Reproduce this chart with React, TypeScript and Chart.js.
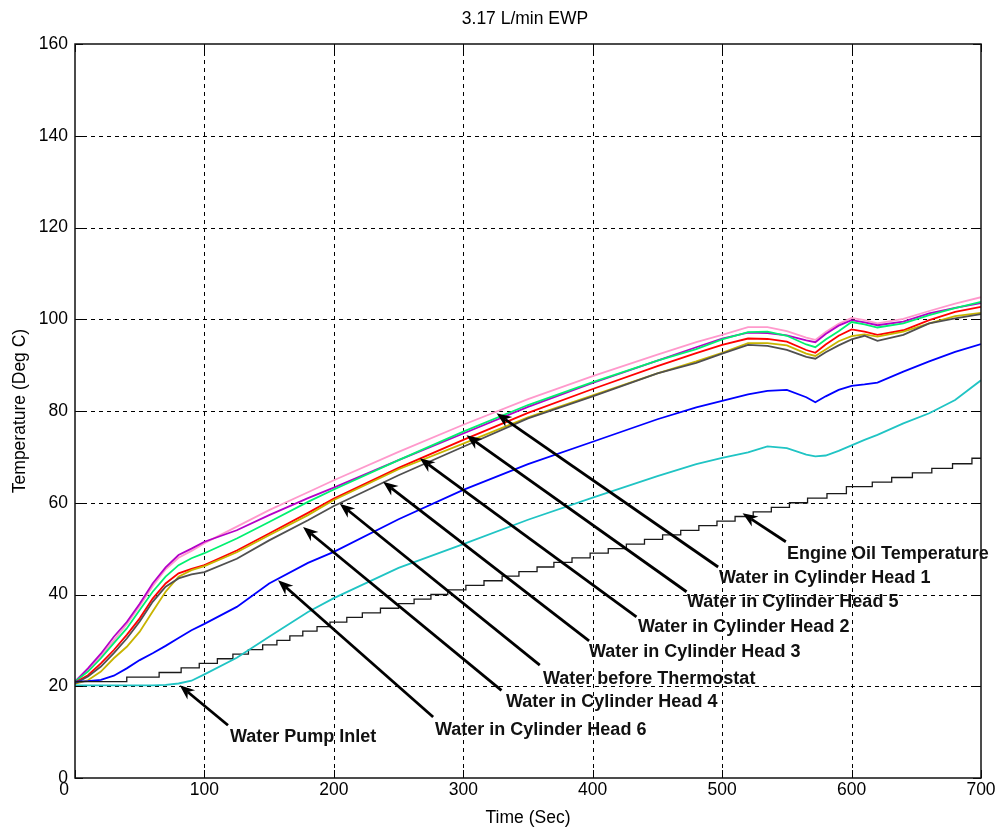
import React, { useEffect, useRef } from "react";
import { Chart, registerables } from "chart.js";
Chart.register(...registerables);

// ---------- data ----------
const TIME = [0, 10, 20, 30, 40, 50, 60, 70, 80, 90, 100, 125, 150, 180, 200, 250, 300, 350, 400, 450, 480, 500, 520, 535, 550, 565, 572, 580, 590, 600, 610, 620, 640, 660, 680, 700];

const HEAD1 = [21, 23.5, 26.5, 30, 33.5, 37.5, 41.8, 45.5, 48, 49.5, 51.2, 54.8, 58.4, 62.3, 64.9, 71.1, 77, 82.6, 87.6, 92.3, 95, 96.6, 98.3, 98.3, 97.4, 96, 95.5, 97.2, 99, 100.3, 99.8, 99.1, 100.1, 101.8, 103.4, 104.8];
const HEAD5 = [21, 23.2, 26.1, 29.4, 32.6, 36.6, 40.6, 43.9, 46.4, 47.9, 49, 52.2, 55.8, 60.2, 62.9, 69.3, 75.5, 81.3, 86.3, 91, 93.5, 95.6, 97.2, 97.3, 96.4, 94.5, 93.9, 95.6, 97.4, 99.4, 98.9, 98.2, 99.1, 100.9, 102.4, 103.8];
const HEAD2 = [21, 23.9, 27.1, 30.8, 34, 38, 42.4, 45.9, 48.6, 50, 51.5, 54, 57.3, 61, 63.3, 69.3, 75.1, 80.9, 86.1, 91, 93.9, 95.8, 97.1, 97, 96.5, 95.4, 95, 96.8, 98.6, 99.8, 99.3, 98.7, 99.5, 101.3, 102.5, 103.5];
const HEAD3 = [20.8, 22.4, 25, 27.9, 31.2, 34.8, 39.1, 42.4, 44.6, 45.6, 46.4, 49.6, 53.3, 57.8, 60.9, 67.6, 73.7, 79.6, 84.8, 89.8, 92.6, 94.4, 95.8, 95.7, 95.1, 93.3, 92.7, 94.5, 96.4, 97.8, 97.3, 96.6, 97.6, 99.8, 101.6, 102.7];
const THERMOSTAT = [20.5, 21.3, 23.2, 26.1, 28.6, 31.9, 36.3, 40.6, 43.9, 45.3, 46.2, 49.2, 52.9, 57.3, 60.6, 67.3, 72.9, 78.6, 83.4, 88.2, 90.8, 92.7, 94.8, 94.8, 94.3, 92.5, 92, 93.4, 95.2, 96.3, 96.7, 96.2, 97.3, 99.1, 100.7, 101.4];
const HEAD4 = [20.6, 22.1, 24.3, 27.2, 30.4, 34.1, 38.4, 41.7, 43.5, 44.4, 44.9, 47.8, 51.8, 56.2, 59.3, 66, 72.2, 78.4, 83.2, 88.2, 90.5, 92.5, 94.4, 94.2, 93.3, 91.8, 91.4, 92.8, 94.3, 95.6, 96.4, 95.3, 96.6, 99.1, 100.2, 101.1];
const HEAD6 = [21, 21.1, 21.4, 22.3, 23.9, 25.7, 27.2, 28.8, 30.5, 32.2, 33.6, 37.3, 42.4, 46.9, 49.3, 56.4, 62.8, 68.4, 73.3, 78.2, 80.8, 82.2, 83.6, 84.4, 84.6, 83, 81.9, 83.2, 84.6, 85.5, 85.8, 86.2, 88.6, 90.8, 92.9, 94.6];
const PUMP_INLET = [20.2, 20.2, 20.2, 20.2, 20.2, 20.2, 20.2, 20.3, 20.6, 21.2, 22.6, 26.2, 30.8, 36.2, 39.2, 45.8, 51, 56.3, 61.1, 65.8, 68.4, 69.8, 71, 72.3, 71.9, 70.5, 70.1, 70.3, 71.3, 72.5, 73.7, 74.8, 77.3, 79.5, 82.4, 86.7];

const OIL_TIME = [0, 40, 65, 82, 96, 110, 122, 134, 145, 156, 166, 176, 187, 197, 210, 222, 236, 250, 262, 275, 288, 302, 316, 330, 343, 357, 370, 384, 398, 412, 426, 440, 454, 468, 482, 496, 510, 524, 538, 552, 566, 581, 596, 616, 631, 647, 662, 678, 693, 700];
const OIL_TEMP = [21, 22, 23, 24, 25, 26, 27, 28, 29, 30, 31, 32, 33, 34, 35, 36, 37, 38, 39, 40, 41, 42, 43, 44, 45, 46, 47, 48, 49, 50, 51, 52, 53, 54, 55, 56, 57, 58, 59, 60, 61, 62, 63.5, 64.5, 65.5, 66.5, 67.5, 68.5, 69.7, 69.7];

const X_TICKS = [0, 100, 200, 300, 400, 500, 600, 700];
const Y_TICKS = [0, 20, 40, 60, 80, 100, 120, 140, 160];

const TITLE = "3.17 L/min EWP";
const X_TITLE = "Time (Sec)";
const Y_TITLE = "Temperature (Deg C)";

// annotations: arrow tip/tail in data units, label anchor in pixels (left, middle)
const ANNOTATIONS = [
  { text: "Engine Oil Temperature", tip: [515.8, 57.7], tail: [549.2, 51.5], label: [787, 554] },
  { text: "Water in Cylinder Head 1", tip: [325.7, 79.5], tail: [496.9, 46.0], label: [719, 578] },
  { text: "Water in Cylinder Head 5", tip: [302.5, 74.7], tail: [472.5, 40.6], label: [687, 602] },
  { text: "Water in Cylinder Head 2", tip: [266.4, 69.7], tail: [433.8, 35.1], label: [638, 627] },
  { text: "Water in Cylinder Head 3", tip: [238.0, 64.6], tail: [397.2, 29.9], label: [589, 652] },
  { text: "Water before Thermostat", tip: [204.6, 59.8], tail: [359.1, 24.6], label: [543, 679] },
  { text: "Water in Cylinder Head 4", tip: [176.2, 54.7], tail: [329.5, 19.1], label: [506, 702] },
  { text: "Water in Cylinder Head 6", tip: [156.9, 43.1], tail: [276.7, 13.3], label: [435, 730] },
  { text: "Water Pump Inlet", tip: [80.9, 20.2], tail: [118.2, 11.5], label: [230, 737] },
];

const FONT = '"Liberation Sans", Arial, sans-serif';

const pts = (xs: number[], ys: number[]) => xs.map((x, i) => ({ x, y: ys[i] }));

function drawArrow(ctx: CanvasRenderingContext2D, x1: number, y1: number, x2: number, y2: number) {
  const a = Math.atan2(y2 - y1, x2 - x1);
  const c = Math.cos(a), s = Math.sin(a);
  const L = 15, W = 6;
  ctx.beginPath();
  ctx.moveTo(x1, y1);
  ctx.lineTo(x2 - c * L * 0.7, y2 - s * L * 0.7);
  ctx.stroke();
  ctx.beginPath();
  ctx.moveTo(x2, y2);
  ctx.lineTo(x2 - c * L - s * W, y2 - s * L + c * W);
  ctx.lineTo(x2 - c * L * 0.7, y2 - s * L * 0.7);
  ctx.lineTo(x2 - c * L + s * W, y2 - s * L - c * W);
  ctx.closePath();
  ctx.fill();
}

const framePlugin = {
  id: "matlabFrame",
  beforeDraw(chart: any) {
    const { ctx, width, height } = chart;
    ctx.save();
    ctx.fillStyle = "#ffffff";
    ctx.fillRect(0, 0, width, height);
    ctx.restore();
  },
  beforeDatasetsDraw(chart: any) {
    const { ctx, chartArea, scales } = chart;
    const { left, right, top, bottom } = chartArea;
    const xs = scales.x, ys = scales.y;
    ctx.save();
    ctx.strokeStyle = "#000";
    ctx.lineWidth = 1;
    ctx.setLineDash([4, 4]);
    for (const t of X_TICKS) {
      if (t === X_TICKS[0] || t === X_TICKS[X_TICKS.length - 1]) continue;
      const px = Math.round(xs.getPixelForValue(t)) + 0.5;
      ctx.beginPath(); ctx.moveTo(px, top); ctx.lineTo(px, bottom); ctx.stroke();
    }
    for (const v of Y_TICKS) {
      if (v === Y_TICKS[0] || v === Y_TICKS[Y_TICKS.length - 1]) continue;
      const py = Math.round(ys.getPixelForValue(v)) + 0.5;
      ctx.beginPath(); ctx.moveTo(left, py); ctx.lineTo(right, py); ctx.stroke();
    }
    ctx.restore();
  },
  afterDatasetsDraw(chart: any) {
    const { ctx, chartArea, scales } = chart;
    const { left, right, top, bottom } = chartArea;
    const xs = scales.x, ys = scales.y;
    ctx.save();
    // tick marks inside
    ctx.strokeStyle = "#000";
    ctx.lineWidth = 1;
    ctx.setLineDash([]);
    const TL = 8;
    for (const t of X_TICKS) {
      const px = Math.round(xs.getPixelForValue(t)) + 0.5;
      ctx.beginPath(); ctx.moveTo(px, bottom); ctx.lineTo(px, bottom - TL); ctx.stroke();
      ctx.beginPath(); ctx.moveTo(px, top); ctx.lineTo(px, top + TL); ctx.stroke();
    }
    for (const v of Y_TICKS) {
      const py = Math.round(ys.getPixelForValue(v)) + 0.5;
      ctx.beginPath(); ctx.moveTo(left, py); ctx.lineTo(left + TL, py); ctx.stroke();
      ctx.beginPath(); ctx.moveTo(right, py); ctx.lineTo(right - TL, py); ctx.stroke();
    }
    // box
    ctx.lineWidth = 1.5;
    ctx.strokeStyle = "#111";
    ctx.strokeRect(left, top, right - left, bottom - top);

    // tick labels
    ctx.fillStyle = "#000";
    ctx.font = `17.5px ${FONT}`;
    ctx.textAlign = "right";
    ctx.textBaseline = "middle";
    for (const v of Y_TICKS) {
      ctx.fillText(String(v), left - 7, ys.getPixelForValue(v));
    }
    ctx.textAlign = "center";
    for (const t of X_TICKS) {
      const px = xs.getPixelForValue(t) - (t === 0 ? 11 : 0);
      ctx.fillText(String(t), px, bottom + 12);
    }
    // axis titles
    ctx.fillText(X_TITLE, (left + right) / 2, 818);
    ctx.save();
    ctx.translate(20, (top + bottom) / 2);
    ctx.rotate(-Math.PI / 2);
    ctx.fillText(Y_TITLE, 0, 0);
    ctx.restore();
    // title
    ctx.fillText(TITLE, 525, 19);

    // annotations
    ctx.strokeStyle = "#000";
    ctx.fillStyle = "#000";
    ctx.lineWidth = 2.8;
    ctx.lineCap = "butt";
    for (const a of ANNOTATIONS) {
      const tx = xs.getPixelForValue(a.tip[0]), ty = ys.getPixelForValue(a.tip[1]);
      const sx = xs.getPixelForValue(a.tail[0]), sy = ys.getPixelForValue(a.tail[1]);
      drawArrow(ctx, sx, sy, tx, ty);
    }
    ctx.font = `bold 18px ${FONT}`;
    ctx.textAlign = "left";
    ctx.textBaseline = "middle";
    ctx.fillStyle = "#111";
    for (const a of ANNOTATIONS) {
      ctx.fillText(a.text, a.label[0], a.label[1]);
    }
    ctx.restore();
  },
};

export default function App() {
  const ref = useRef<HTMLCanvasElement>(null);
  useEffect(() => {
    if (!ref.current) return;
    const common = { pointRadius: 0, borderWidth: 1.8, tension: 0, fill: false };
    const chart = new Chart(ref.current, {
      type: "line",
      data: {
        datasets: [
          { label: "Water Pump Inlet", data: pts(TIME, PUMP_INLET), borderColor: "#20c4c4", ...common },
          { label: "Engine Oil Temperature", data: pts(OIL_TIME, OIL_TEMP), borderColor: "#1a1a1a", stepped: true, ...common, borderWidth: 1.3 },
          { label: "Water in Cylinder Head 6", data: pts(TIME, HEAD6), borderColor: "#0000ff", ...common },
          { label: "Water in Cylinder Head 4", data: pts(TIME, HEAD4), borderColor: "#505050", ...common },
          { label: "Water before Thermostat", data: pts(TIME, THERMOSTAT), borderColor: "#c8b400", ...common },
          { label: "Water in Cylinder Head 3", data: pts(TIME, HEAD3), borderColor: "#ff0000", ...common },
          { label: "Water in Cylinder Head 5", data: pts(TIME, HEAD5), borderColor: "#00f070", ...common },
          { label: "Water in Cylinder Head 2", data: pts(TIME, HEAD2), borderColor: "#b400c8", ...common },
          { label: "Water in Cylinder Head 1", data: pts(TIME, HEAD1), borderColor: "#ff99cc", ...common },
        ],
      },
      options: {
        animation: false,
        responsive: false,
        maintainAspectRatio: false,
        devicePixelRatio: 1,
        events: [],
        layout: { padding: { left: 75, top: 44, right: 14, bottom: 53 } },
        plugins: { legend: { display: false }, tooltip: { enabled: false }, title: { display: false } },
        scales: {
          x: { type: "linear", min: 0, max: 700, display: false },
          y: { type: "linear", min: 0, max: 160, display: false },
        },
      },
      plugins: [framePlugin],
    } as any);
    return () => chart.destroy();
  }, []);
  return (
    <div style={{ position: "fixed", left: 0, top: 0, width: 995, height: 831, background: "#fff" }}>
      <canvas ref={ref} width={995} height={831} style={{ display: "block", width: 995, height: 831 }} />
    </div>
  );
}
